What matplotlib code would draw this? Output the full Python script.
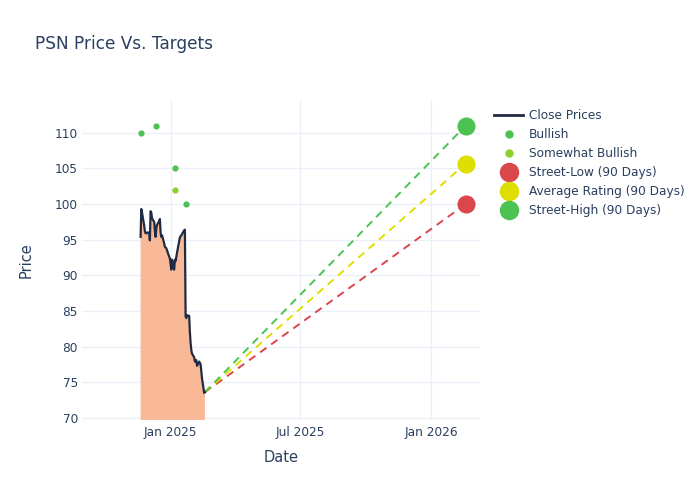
import matplotlib
matplotlib.use("Agg")
import matplotlib.pyplot as plt
import matplotlib.dates as mdates
from matplotlib.lines import Line2D
import pandas as pd

# close prices, trading days Nov 20 2024 - Feb 18 2025
dates = pd.bdate_range("2024-11-20", "2025-02-18").drop(
    [pd.Timestamp("2024-12-25"), pd.Timestamp("2025-01-01")]
)
close = [
    95.4, 99.3, 98.8, 97.0, 96.2, 95.9, 95.9, 96.0,
    96.0, 94.9, 99.0, 98.8, 98.0,
    97.5, 96.2, 95.4, 96.6, 97.1,
    97.6, 97.9, 96.0, 95.4, 95.6,
    94.5, 94.0, 93.8, 93.5,
    92.6, 92.4, 90.8, 92.2,
    90.8, 92.2, 92.0, 92.6, 93.2,
    94.8, 95.3, 95.5, 95.6, 95.8,
    96.3, 96.4, 84.2, 84.0, 84.4,
    84.3, 82.0, 80.5, 79.5, 79.0,
    78.5, 77.9, 78.0, 78.1, 77.3,
    77.9, 77.7, 77.5, 76.5, 75.5,
    73.5, 73.6,
]

bullish_dates = pd.to_datetime(["2024-11-20", "2024-12-11", "2025-01-07", "2025-01-22"])
bullish_targets = [110, 111, 105, 100]
somewhat_dates = pd.to_datetime(["2025-01-07"])
somewhat_targets = [102]

target_date = pd.Timestamp("2026-02-18")
street_low = 100
street_avg = 105.67
street_high = 111

text_col = "#2a3f5f"
grid_col = "#ebf0f8"

fig = plt.figure(figsize=(7, 5), dpi=100)
ax = fig.add_axes([82 / 700, 80 / 500, 398 / 700, 320 / 500])

ax.fill_between(dates, close, 0, color="#f9b996", lw=0, zorder=1)
ax.plot(dates, close, color="#1f2a44", lw=1.6, zorder=3)

last_date, last_close = dates[-1], close[-1]
for val, col in [(street_low, "#d9464b"), (street_avg, "#dede00"), (street_high, "#4cc252")]:
    ax.plot([last_date, target_date], [last_close, val], color=col, lw=1.4,
            dashes=(4, 3), zorder=2)
    ax.scatter([target_date], [val], s=170, color=col, zorder=4, lw=0)

ax.scatter(bullish_dates, bullish_targets, s=20, color="#4cc252", zorder=4, lw=0)
ax.scatter(somewhat_dates, somewhat_targets, s=20, color="#8fd12c", zorder=4, lw=0)

ax.set_xlim(pd.Timestamp("2024-08-30"), pd.Timestamp("2026-03-10"))
ax.set_ylim(69.7, 114.6)
ax.set_yticks(range(70, 111, 5))
ax.set_xticks(pd.to_datetime(["2025-01-01", "2025-07-01", "2026-01-01"]))
ax.xaxis.set_major_formatter(mdates.DateFormatter("%b %Y"))

for s in ax.spines.values():
    s.set_visible(False)
ax.grid(True, color=grid_col, lw=1)
ax.set_axisbelow(True)
ax.tick_params(length=0, colors=text_col, labelsize=8.7)
ax.tick_params(axis="x", pad=4)
ax.tick_params(axis="y", pad=3)
ax.set_xlabel("Date", color=text_col, fontsize=10.5, labelpad=8)
ax.set_ylabel("Price", color=text_col, fontsize=10.5, labelpad=15)

fig.text(35 / 700, 1 - 44 / 500, "PSN Price Vs. Targets", color=text_col,
         fontsize=12.2, va="center", ha="left")

handles = [
    Line2D([], [], color="#1f2a44", lw=2),
    Line2D([], [], ls="", marker="o", ms=5, color="#4cc252"),
    Line2D([], [], ls="", marker="o", ms=5, color="#8fd12c"),
    Line2D([], [], ls="", marker="o", ms=13, color="#d9464b"),
    Line2D([], [], ls="", marker="o", ms=13, color="#dede00"),
    Line2D([], [], ls="", marker="o", ms=13, color="#4cc252"),
]
labels = ["Close Prices", "Bullish", "Somewhat Bullish", "Street-Low (90 Days)",
          "Average Rating (90 Days)", "Street-High (90 Days)"]
leg = fig.legend(handles, labels, loc="upper left", bbox_to_anchor=(494 / 700, 1 - 109 / 500),
                 frameon=False, fontsize=8.7, handlelength=2.4, labelspacing=0.5,
                 handletextpad=0.5, borderaxespad=0, borderpad=0)
for t in leg.get_texts():
    t.set_color(text_col)

fig.savefig("out.png", dpi=100)
